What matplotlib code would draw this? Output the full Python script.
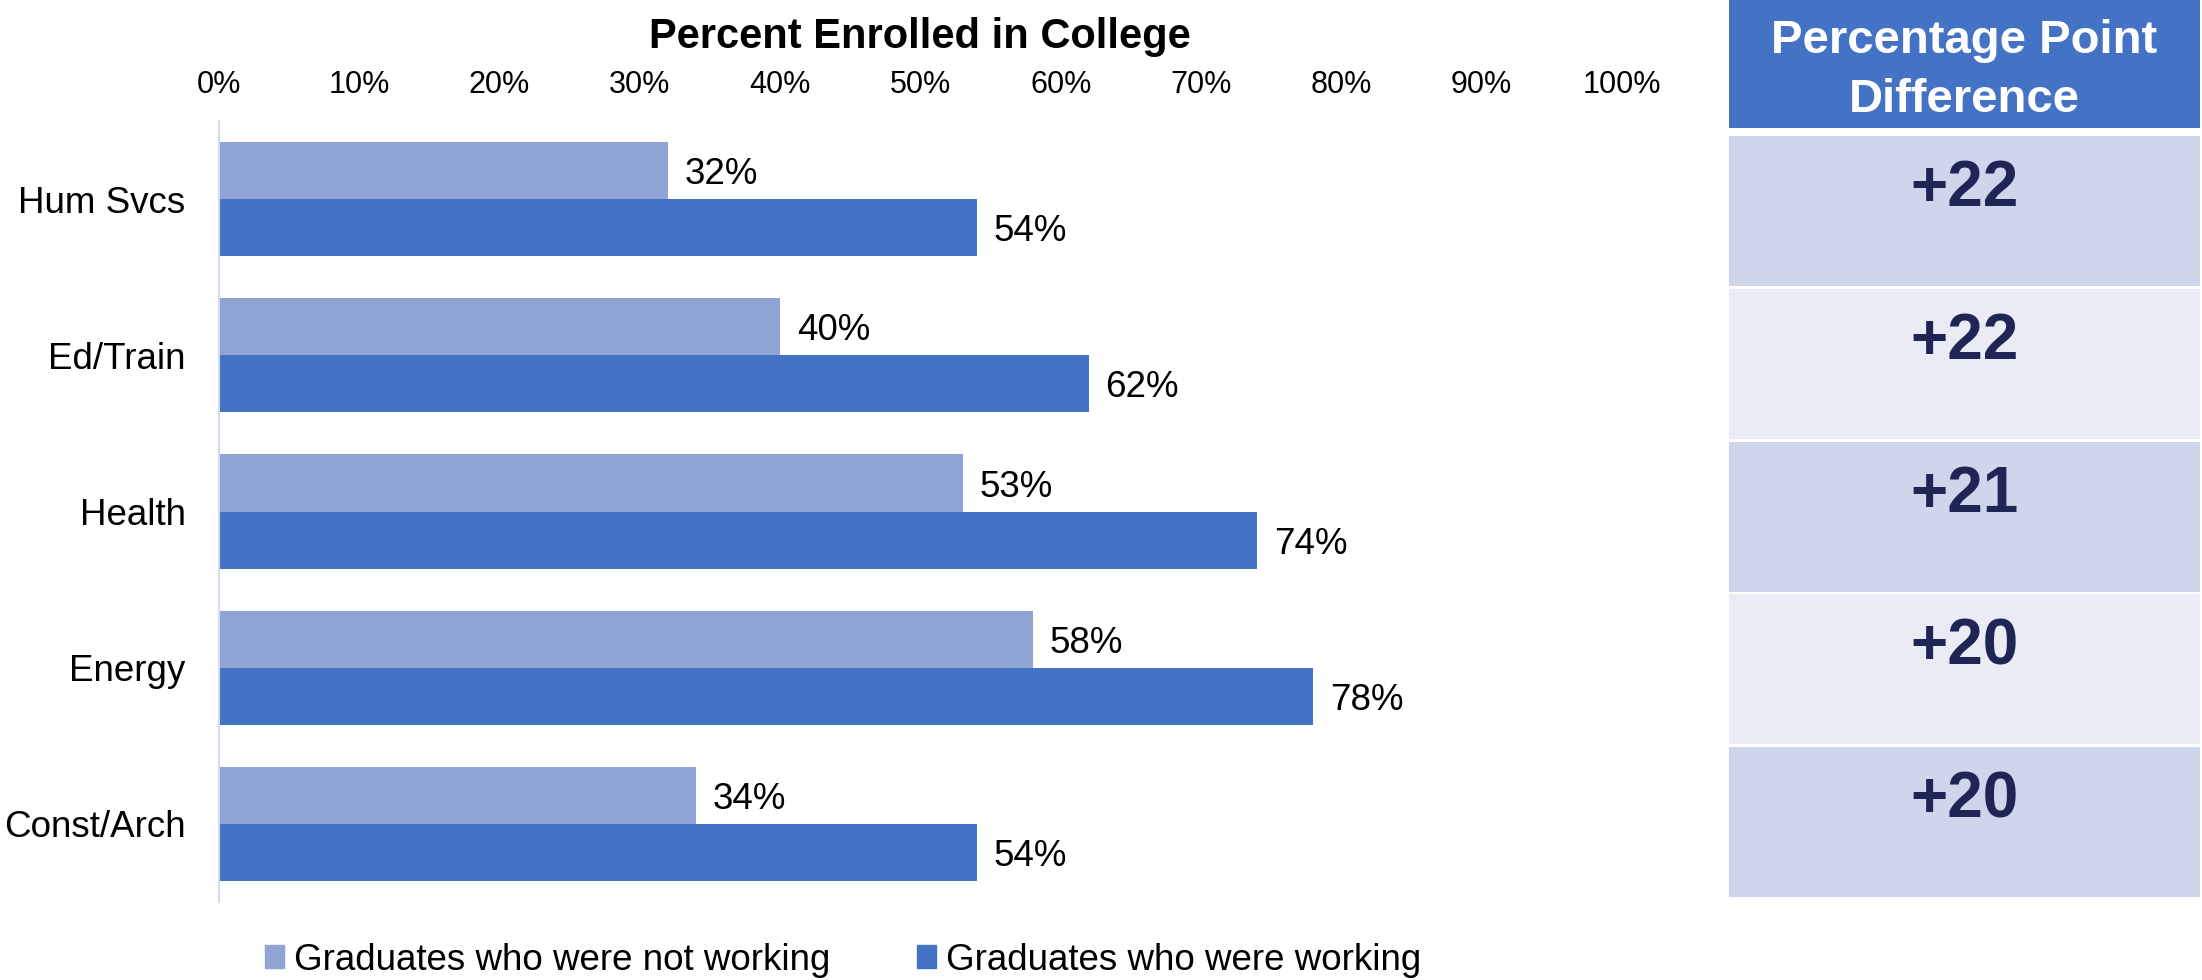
import matplotlib
matplotlib.use('Agg')
import matplotlib.pyplot as plt
import numpy as np
from matplotlib.patches import Patch, Rectangle
from matplotlib.ticker import FuncFormatter

# data
categories = ['Hum Svcs', 'Ed/Train', 'Health', 'Energy', 'Const/Arch']
not_working = [32, 40, 53, 58, 34]
working = [54, 62, 74, 78, 54]
pp_diff = [22, 22, 21, 20, 20]
series_names = ['Graduates who were not working', 'Graduates who were working']
x_ticks = [0, 10, 20, 30, 40, 50, 60, 70, 80, 90, 100]

LIGHT = '#8FA3D4'
DARK = '#4472C4'
ROW_COLORS = ['#CFD5EA', '#E9EBF5']
NAVY = '#1F2555'

plt.rcParams['font.family'] = ['Liberation Sans', 'DejaVu Sans']

W, H = 2202, 980
fig = plt.figure(figsize=(W / 100, H / 100), dpi=100)


def fx(px):
    return px / W


def fy(py):
    return 1 - py / H


# table on the right, drawn in pixel coordinates of the figure
tab = fig.add_axes([0, 0, 1, 1])
tab.set_xlim(0, W)
tab.set_ylim(H, 0)
tab.axis('off')

tbl_left, tbl_right = 1729, 2200
tbl_mid = (tbl_left + tbl_right) / 2
header_h = 128
first_top = 136
row_step = 152.8
row_h = 150

tab.add_patch(Rectangle((tbl_left, 0), tbl_right - tbl_left, header_h, color=DARK, lw=0))
tab.text(tbl_mid, 53, 'Percentage Point', ha='center', va='baseline',
         color='white', fontsize=34, fontweight='bold')
tab.text(tbl_mid, 112, 'Difference', ha='center', va='baseline',
         color='white', fontsize=34, fontweight='bold')

for i, d in enumerate(pp_diff):
    top = first_top + i * row_step
    tab.add_patch(Rectangle((tbl_left, top), tbl_right - tbl_left, row_h,
                            color=ROW_COLORS[i % 2], lw=0))
    tab.text(tbl_mid, top + 70, f'+{d}', ha='center', va='baseline',
             color=NAVY, fontsize=46, fontweight='bold')

# bar chart
ax = fig.add_axes([fx(219), fy(902), fx(1622) - fx(219), fy(121) - fy(902)])
y = np.arange(len(categories))
h = 0.365
b1 = ax.barh(y - h / 2, not_working, height=h, color=LIGHT)
b2 = ax.barh(y + h / 2, working, height=h, color=DARK)

ax.set_ylim(len(categories) - 0.5, -0.5)
ax.set_xlim(0, 100)
ax.xaxis.tick_top()
ax.set_xticks(x_ticks)
ax.xaxis.set_major_formatter(FuncFormatter(lambda v, _: f'{v:.0f}%'))
ax.tick_params(axis='x', length=0, pad=15, labelsize=22)
ax.set_yticks(y, categories)
ax.tick_params(axis='y', length=0, pad=24, labelsize=26.5)
for s in ['top', 'right', 'bottom']:
    ax.spines[s].set_visible(False)
ax.spines['left'].set_color('#D5DAEF')
ax.spines['left'].set_linewidth(1.5)

# value labels just right of each bar
for yy, v in zip(y - h / 2, not_working):
    ax.annotate(f'{v}%', (v, yy), xytext=(12, -3), textcoords='offset points',
                ha='left', va='center', fontsize=26.5)
for yy, v in zip(y + h / 2, working):
    ax.annotate(f'{v}%', (v, yy), xytext=(12, -3), textcoords='offset points',
                ha='left', va='center', fontsize=26.5)

fig.text(fx(920), fy(48), 'Percent Enrolled in College', ha='center', va='baseline',
         fontsize=30, fontweight='bold')

handles = [Patch(color=LIGHT), Patch(color=DARK)]
fig.legend(handles, series_names, loc='center', bbox_to_anchor=(fx(843), fy(960)),
           ncol=2, frameon=False, fontsize=26.5, handlelength=0.52, handleheight=0.55,
           handletextpad=0.27, columnspacing=2.36, borderaxespad=0, borderpad=0)

fig.savefig('out.png', dpi=100)
